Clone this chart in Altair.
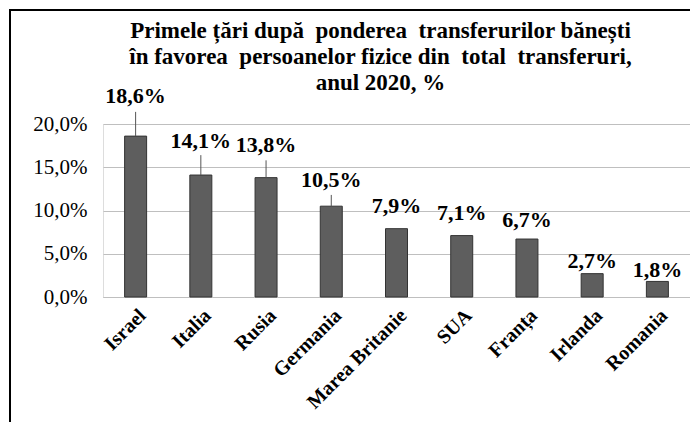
import altair as alt
import pandas as pd

countries = ["Israel", "Italia", "Rusia", "Germania", "Marea Britanie", "SUA", "Franța", "Irlanda", "Romania"]
values = [18.6, 14.1, 13.8, 10.5, 7.9, 7.1, 6.7, 2.7, 1.8]
# where each value label sits (in % units) and top of its leader line (None = no leader)
label_pos = [22.4, 17.2, 16.8, 12.7, 9.7, 8.9, 8.1, 3.35, 2.35]
leader_top = [21.4, 16.4, 15.8, 11.8, None, None, None, None, None]
y_ticks = [0, 5, 10, 15, 20]

df = pd.DataFrame({
    "country": countries,
    "value": values,
    "label_pos": label_pos,
    "leader_top": leader_top,
    "label": [f"{v:.1f}".replace(".", ",") + "%" for v in values],
})

SERIF = "Liberation Serif"
NB = "\u00a0"

x = alt.X("country:N", sort=countries,
          scale=alt.Scale(paddingInner=0, paddingOuter=0),
          axis=alt.Axis(title=None, labelAngle=-45, labelAlign="right", labelBaseline="top",
                        labelFont=SERIF, labelFontSize=20, labelFontWeight="bold",
                        labelColor="black", ticks=False, domain=True, domainColor="#bfbfbf",
                        labelPadding=8))

bars = alt.Chart(df).mark_bar(size=22, color="#5e5e5e", stroke="#333333", strokeWidth=1).encode(
    x=x,
    y=alt.Y("value:Q", scale=alt.Scale(domain=[0, 20]),
            axis=alt.Axis(title=None, values=y_ticks, grid=True, gridColor="#bfbfbf",
                          domain=False, ticks=False, labelFont=SERIF, labelFontSize=21,
                          labelColor="black", labelPadding=16,
                          labelExpr="replace(format(datum.value, '.1f'), '.', ',') + '%'")),
)

leaders = alt.Chart(df).transform_filter("datum.leader_top != null").mark_rule(
    color="#555555", strokeWidth=1).encode(
    x=alt.X("country:N", sort=countries),
    y="value:Q",
    y2="leader_top:Q",
)

labels = alt.Chart(df).mark_text(font=SERIF, fontSize=22, fontWeight="bold", color="black",
                                 baseline="alphabetic").encode(
    x=alt.X("country:N", sort=countries),
    y="label_pos:Q",
    text="label:N",
)

border = alt.Chart(df).mark_rect(fill=None, stroke="black", strokeWidth=1.5).encode(
    x=alt.value(-93), x2=alt.value(650), y=alt.value(-114), y2=alt.value(500)
)

chart = alt.layer(bars, leaders, labels, border).properties(
    width=587, height=173,
    padding={"left": 95, "top": 116, "right": 0, "bottom": 125},
    autosize=alt.AutoSizeParams(type="none"),
    title=alt.TitleParams(
        text=[f"Primele țări după {NB}ponderea {NB}transferurilor bănești",
              f"în favorea {NB}persoanelor fizice din {NB}total {NB}transferuri,",
              "anul 2020, %"],
        font=SERIF, fontSize=23, fontWeight="bold", color="black",
        anchor="middle", dx=-16, lineHeight=26, offset=-86,
    ),
).configure_view(stroke=None).configure(background="white")

chart.save("out.html", embed_options={"renderer": "svg", "actions": False})
